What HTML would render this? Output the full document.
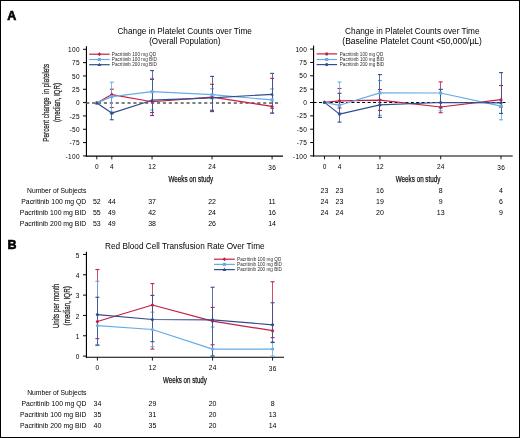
<!DOCTYPE html>
<html><head><meta charset="utf-8"><style>
html,body{margin:0;padding:0;background:#fff;}
svg{display:block;will-change:transform;font-family:"Liberation Sans",sans-serif;}
</style></head><body>
<svg width="520" height="438" viewBox="0 0 520 438">
<rect x="0.5" y="0.5" width="519" height="437" fill="#fff" stroke="#000" stroke-width="1"/>
<text x="7.2" y="19.6" font-size="12.5" font-weight="bold" fill="#000" stroke="#000" stroke-width="0.6">A</text>
<text x="7.4" y="248.7" font-size="12.5" font-weight="bold" fill="#000" stroke="#000" stroke-width="0.6">B</text>
<text x="117.4" y="33.5" font-size="8.3" textLength="134.5" lengthAdjust="spacingAndGlyphs">Change in Platelet Counts over Time</text>
<text x="149.2" y="44.1" font-size="8.3" textLength="71.2" lengthAdjust="spacingAndGlyphs">(Overall Population)</text>
<text x="345.1" y="33.6" font-size="8.3" textLength="134.5" lengthAdjust="spacingAndGlyphs">Change in Platelet Counts over Time</text>
<text x="342.3" y="43.9" font-size="8.3" textLength="139.6" lengthAdjust="spacingAndGlyphs">(Baseline Platelet Count &lt;50,000/µL)</text>
<text transform="translate(48.9 102.7) rotate(-90)" font-size="9.9" text-anchor="middle" textLength="77.9" lengthAdjust="spacingAndGlyphs" fill="#231f20" stroke="#231f20" stroke-width="0.25">Percent change&#160; in platelets</text>
<text transform="translate(59.9 102.5) rotate(-90)" font-size="9.6" text-anchor="middle" textLength="39.0" lengthAdjust="spacingAndGlyphs" fill="#231f20" stroke="#231f20" stroke-width="0.25">(median, IQR)</text>
<line x1="86.45" y1="46.2" x2="86.45" y2="156.7" stroke="#000" stroke-width="1.15"/>
<line x1="85.9" y1="156.1" x2="283" y2="156.1" stroke="#000" stroke-width="1.2"/>
<line x1="83.05" y1="49.29999999999999" x2="86.45" y2="49.29999999999999" stroke="#000" stroke-width="1.0"/>
<text x="79.9" y="51.9" font-size="6.5" text-anchor="end" letter-spacing="0.35">100</text>
<line x1="83.05" y1="62.62499999999999" x2="86.45" y2="62.62499999999999" stroke="#000" stroke-width="1.0"/>
<text x="79.9" y="65.22" font-size="6.5" text-anchor="end" letter-spacing="0.35">75</text>
<line x1="83.05" y1="75.94999999999999" x2="86.45" y2="75.94999999999999" stroke="#000" stroke-width="1.0"/>
<text x="79.9" y="78.55" font-size="6.5" text-anchor="end" letter-spacing="0.35">50</text>
<line x1="83.05" y1="89.27499999999999" x2="86.45" y2="89.27499999999999" stroke="#000" stroke-width="1.0"/>
<text x="79.9" y="91.87" font-size="6.5" text-anchor="end" letter-spacing="0.35">25</text>
<line x1="83.05" y1="102.6" x2="86.45" y2="102.6" stroke="#000" stroke-width="1.0"/>
<text x="79.9" y="105.2" font-size="6.5" text-anchor="end" letter-spacing="0.35">0</text>
<line x1="83.05" y1="115.925" x2="86.45" y2="115.925" stroke="#000" stroke-width="1.0"/>
<text x="79.9" y="118.52" font-size="6.5" text-anchor="end" letter-spacing="0.35">-25</text>
<line x1="83.05" y1="129.25" x2="86.45" y2="129.25" stroke="#000" stroke-width="1.0"/>
<text x="79.9" y="131.85" font-size="6.5" text-anchor="end" letter-spacing="0.35">-50</text>
<line x1="83.05" y1="142.575" x2="86.45" y2="142.575" stroke="#000" stroke-width="1.0"/>
<text x="79.9" y="145.18" font-size="6.5" text-anchor="end" letter-spacing="0.35">-75</text>
<line x1="83.05" y1="155.9" x2="86.45" y2="155.9" stroke="#000" stroke-width="1.0"/>
<text x="79.9" y="158.5" font-size="6.5" text-anchor="end" letter-spacing="0.35">-100</text>
<line x1="96.8" y1="156.1" x2="96.8" y2="159.4" stroke="#000" stroke-width="0.9"/>
<text x="96.975" y="168.7" font-size="6.5" text-anchor="middle" letter-spacing="0.35">0</text>
<line x1="111.8" y1="156.1" x2="111.8" y2="159.4" stroke="#000" stroke-width="0.9"/>
<text x="111.975" y="168.7" font-size="6.5" text-anchor="middle" letter-spacing="0.35">4</text>
<line x1="152.05" y1="156.1" x2="152.05" y2="159.4" stroke="#000" stroke-width="0.9"/>
<text x="152.22500000000002" y="168.7" font-size="6.5" text-anchor="middle" letter-spacing="0.35">12</text>
<line x1="212.05" y1="156.1" x2="212.05" y2="159.4" stroke="#000" stroke-width="0.9"/>
<text x="212.22500000000002" y="168.7" font-size="6.5" text-anchor="middle" letter-spacing="0.35">24</text>
<line x1="272.1" y1="156.1" x2="272.1" y2="159.4" stroke="#000" stroke-width="0.9"/>
<text x="272.27500000000003" y="170.0" font-size="6.5" text-anchor="middle" letter-spacing="0.35">36</text>
<line x1="86.2" y1="102.95" x2="281.0" y2="102.95" stroke="#555" stroke-width="1.6" stroke-dasharray="3.1 2.8"/>
<line x1="111.5" y1="89.2" x2="111.5" y2="107.5" stroke="#c21f45" stroke-width="0.8"/>
<line x1="109.8" y1="89.2" x2="113.8" y2="89.2" stroke="#c21f45" stroke-width="1.1"/>
<line x1="109.8" y1="107.5" x2="113.8" y2="107.5" stroke="#c21f45" stroke-width="1.1"/>
<line x1="152.5" y1="79.5" x2="152.5" y2="112.6" stroke="#c21f45" stroke-width="0.8"/>
<line x1="150.05" y1="79.5" x2="154.05" y2="79.5" stroke="#c21f45" stroke-width="1.1"/>
<line x1="150.05" y1="112.6" x2="154.05" y2="112.6" stroke="#c21f45" stroke-width="1.1"/>
<line x1="212.5" y1="84.3" x2="212.5" y2="111.6" stroke="#c21f45" stroke-width="0.8"/>
<line x1="210.05" y1="84.3" x2="214.05" y2="84.3" stroke="#c21f45" stroke-width="1.1"/>
<line x1="210.05" y1="111.6" x2="214.05" y2="111.6" stroke="#c21f45" stroke-width="1.1"/>
<line x1="272.5" y1="78.3" x2="272.5" y2="108.2" stroke="#c21f45" stroke-width="0.8"/>
<line x1="270.1" y1="78.3" x2="274.1" y2="78.3" stroke="#c21f45" stroke-width="1.1"/>
<line x1="270.1" y1="108.2" x2="274.1" y2="108.2" stroke="#c21f45" stroke-width="1.1"/>
<line x1="111.5" y1="82.2" x2="111.5" y2="112.0" stroke="#66ace6" stroke-width="0.8"/>
<line x1="109.8" y1="82.2" x2="113.8" y2="82.2" stroke="#66ace6" stroke-width="1.1"/>
<line x1="109.8" y1="112.0" x2="113.8" y2="112.0" stroke="#66ace6" stroke-width="1.1"/>
<line x1="152.5" y1="78.3" x2="152.5" y2="110.0" stroke="#66ace6" stroke-width="0.8"/>
<line x1="150.05" y1="78.3" x2="154.05" y2="78.3" stroke="#66ace6" stroke-width="1.1"/>
<line x1="150.05" y1="110.0" x2="154.05" y2="110.0" stroke="#66ace6" stroke-width="1.1"/>
<line x1="212.5" y1="88.8" x2="212.5" y2="110.0" stroke="#66ace6" stroke-width="0.8"/>
<line x1="210.05" y1="88.8" x2="214.05" y2="88.8" stroke="#66ace6" stroke-width="1.1"/>
<line x1="210.05" y1="110.0" x2="214.05" y2="110.0" stroke="#66ace6" stroke-width="1.1"/>
<line x1="272.5" y1="88.9" x2="272.5" y2="113.1" stroke="#66ace6" stroke-width="0.8"/>
<line x1="270.1" y1="88.9" x2="274.1" y2="88.9" stroke="#66ace6" stroke-width="1.1"/>
<line x1="270.1" y1="113.1" x2="274.1" y2="113.1" stroke="#66ace6" stroke-width="1.1"/>
<line x1="111.5" y1="113.1" x2="111.5" y2="119.75" stroke="#324d8c" stroke-width="0.8"/>
<line x1="109.8" y1="113.1" x2="113.8" y2="113.1" stroke="#324d8c" stroke-width="1.1"/>
<line x1="109.8" y1="119.75" x2="113.8" y2="119.75" stroke="#324d8c" stroke-width="1.1"/>
<line x1="152.5" y1="70.6" x2="152.5" y2="115.5" stroke="#324d8c" stroke-width="0.8"/>
<line x1="150.05" y1="70.6" x2="154.05" y2="70.6" stroke="#324d8c" stroke-width="1.1"/>
<line x1="150.05" y1="115.5" x2="154.05" y2="115.5" stroke="#324d8c" stroke-width="1.1"/>
<line x1="212.5" y1="76.4" x2="212.5" y2="110.8" stroke="#324d8c" stroke-width="0.8"/>
<line x1="210.05" y1="76.4" x2="214.05" y2="76.4" stroke="#324d8c" stroke-width="1.1"/>
<line x1="210.05" y1="110.8" x2="214.05" y2="110.8" stroke="#324d8c" stroke-width="1.1"/>
<line x1="272.5" y1="73.4" x2="272.5" y2="113.1" stroke="#324d8c" stroke-width="0.8"/>
<line x1="270.1" y1="73.4" x2="274.1" y2="73.4" stroke="#324d8c" stroke-width="1.1"/>
<line x1="270.1" y1="113.1" x2="274.1" y2="113.1" stroke="#324d8c" stroke-width="1.1"/>
<path d="M96.8 102.9 L111.8 94.6 L152.05 101.75 L212.05 97.1 L272.1 106.4" fill="none" stroke="#c21f45" stroke-width="1.2" stroke-linejoin="round"/>
<path d="M96.8 102.9 L111.8 96.6 L152.05 91.7 L212.05 94.7 L272.1 99.9" fill="none" stroke="#66ace6" stroke-width="1.2" stroke-linejoin="round"/>
<path d="M96.8 102.9 L111.8 113.1 L152.05 100.2 L212.05 97.9 L272.1 94.3" fill="none" stroke="#324d8c" stroke-width="1.2" stroke-linejoin="round"/>
<path d="M96.8 100.885L98.5825 102.9L96.8 104.915L95.0175 102.9Z" fill="#c21f45"/>
<path d="M111.8 92.585L113.5825 94.6L111.8 96.615L110.0175 94.6Z" fill="#c21f45"/>
<path d="M152.05 99.735L153.8325 101.75L152.05 103.765L150.2675 101.75Z" fill="#c21f45"/>
<path d="M212.05 95.085L213.8325 97.1L212.05 99.115L210.2675 97.1Z" fill="#c21f45"/>
<path d="M272.1 104.385L273.88250000000005 106.4L272.1 108.415L270.3175 106.4Z" fill="#c21f45"/>
<rect x="95.25" y="101.35000000000001" width="3.1" height="3.1" fill="#66ace6"/>
<rect x="110.25" y="95.05" width="3.1" height="3.1" fill="#66ace6"/>
<rect x="150.5" y="90.15" width="3.1" height="3.1" fill="#66ace6"/>
<rect x="210.5" y="93.15" width="3.1" height="3.1" fill="#66ace6"/>
<rect x="270.55" y="98.35000000000001" width="3.1" height="3.1" fill="#66ace6"/>
<path d="M96.8 100.885L98.5825 104.2175L95.0175 104.2175Z" fill="#324d8c"/>
<path d="M111.8 111.085L113.5825 114.41749999999999L110.0175 114.41749999999999Z" fill="#324d8c"/>
<path d="M152.05 98.185L153.8325 101.5175L150.2675 101.5175Z" fill="#324d8c"/>
<path d="M212.05 95.885L213.8325 99.2175L210.2675 99.2175Z" fill="#324d8c"/>
<path d="M272.1 92.285L273.88250000000005 95.61749999999999L270.3175 95.61749999999999Z" fill="#324d8c"/>
<line x1="313.55" y1="45.6" x2="313.55" y2="156.6" stroke="#000" stroke-width="1.15"/>
<line x1="313.0" y1="156.0" x2="512.7" y2="156.0" stroke="#000" stroke-width="1.2"/>
<line x1="310.15000000000003" y1="49.099999999999994" x2="313.55" y2="49.099999999999994" stroke="#000" stroke-width="1.0"/>
<text x="307.3" y="51.7" font-size="6.5" text-anchor="end" letter-spacing="0.35">100</text>
<line x1="310.15000000000003" y1="62.449999999999996" x2="313.55" y2="62.449999999999996" stroke="#000" stroke-width="1.0"/>
<text x="307.3" y="65.05" font-size="6.5" text-anchor="end" letter-spacing="0.35">75</text>
<line x1="310.15000000000003" y1="75.8" x2="313.55" y2="75.8" stroke="#000" stroke-width="1.0"/>
<text x="307.3" y="78.4" font-size="6.5" text-anchor="end" letter-spacing="0.35">50</text>
<line x1="310.15000000000003" y1="89.15" x2="313.55" y2="89.15" stroke="#000" stroke-width="1.0"/>
<text x="307.3" y="91.75" font-size="6.5" text-anchor="end" letter-spacing="0.35">25</text>
<line x1="310.15000000000003" y1="102.5" x2="313.55" y2="102.5" stroke="#000" stroke-width="1.0"/>
<text x="307.3" y="105.1" font-size="6.5" text-anchor="end" letter-spacing="0.35">0</text>
<line x1="310.15000000000003" y1="115.85" x2="313.55" y2="115.85" stroke="#000" stroke-width="1.0"/>
<text x="307.3" y="118.45" font-size="6.5" text-anchor="end" letter-spacing="0.35">-25</text>
<line x1="310.15000000000003" y1="129.2" x2="313.55" y2="129.2" stroke="#000" stroke-width="1.0"/>
<text x="307.3" y="131.8" font-size="6.5" text-anchor="end" letter-spacing="0.35">-50</text>
<line x1="310.15000000000003" y1="142.55" x2="313.55" y2="142.55" stroke="#000" stroke-width="1.0"/>
<text x="307.3" y="145.15" font-size="6.5" text-anchor="end" letter-spacing="0.35">-75</text>
<line x1="310.15000000000003" y1="155.9" x2="313.55" y2="155.9" stroke="#000" stroke-width="1.0"/>
<text x="307.3" y="158.5" font-size="6.5" text-anchor="end" letter-spacing="0.35">-100</text>
<line x1="324.5" y1="156.0" x2="324.5" y2="159.3" stroke="#000" stroke-width="0.9"/>
<text x="324.675" y="168.5" font-size="6.5" text-anchor="middle" letter-spacing="0.35">0</text>
<line x1="339.5" y1="156.0" x2="339.5" y2="159.3" stroke="#000" stroke-width="0.9"/>
<text x="339.675" y="168.5" font-size="6.5" text-anchor="middle" letter-spacing="0.35">4</text>
<line x1="379.95" y1="156.0" x2="379.95" y2="159.3" stroke="#000" stroke-width="0.9"/>
<text x="380.125" y="168.5" font-size="6.5" text-anchor="middle" letter-spacing="0.35">12</text>
<line x1="440.7" y1="156.0" x2="440.7" y2="159.3" stroke="#000" stroke-width="0.9"/>
<text x="440.875" y="168.5" font-size="6.5" text-anchor="middle" letter-spacing="0.35">24</text>
<line x1="501.0" y1="156.0" x2="501.0" y2="159.3" stroke="#000" stroke-width="0.9"/>
<text x="501.175" y="169.8" font-size="6.5" text-anchor="middle" letter-spacing="0.35">36</text>
<line x1="313.6" y1="102.45" x2="508.2" y2="102.45" stroke="#000" stroke-width="1.05" stroke-dasharray="3 2.4"/>
<line x1="339.5" y1="88.5" x2="339.5" y2="108.0" stroke="#c21f45" stroke-width="0.8"/>
<line x1="337.5" y1="88.5" x2="341.5" y2="88.5" stroke="#c21f45" stroke-width="1.1"/>
<line x1="337.5" y1="108.0" x2="341.5" y2="108.0" stroke="#c21f45" stroke-width="1.1"/>
<line x1="379.5" y1="89.5" x2="379.5" y2="110.4" stroke="#c21f45" stroke-width="0.8"/>
<line x1="377.95" y1="89.5" x2="381.95" y2="89.5" stroke="#c21f45" stroke-width="1.1"/>
<line x1="377.95" y1="110.4" x2="381.95" y2="110.4" stroke="#c21f45" stroke-width="1.1"/>
<line x1="440.5" y1="81.9" x2="440.5" y2="112.7" stroke="#c21f45" stroke-width="0.8"/>
<line x1="438.7" y1="81.9" x2="442.7" y2="81.9" stroke="#c21f45" stroke-width="1.1"/>
<line x1="438.7" y1="112.7" x2="442.7" y2="112.7" stroke="#c21f45" stroke-width="1.1"/>
<line x1="501.5" y1="85.5" x2="501.5" y2="107.0" stroke="#c21f45" stroke-width="0.8"/>
<line x1="499.0" y1="85.5" x2="503.0" y2="85.5" stroke="#c21f45" stroke-width="1.1"/>
<line x1="499.0" y1="107.0" x2="503.0" y2="107.0" stroke="#c21f45" stroke-width="1.1"/>
<line x1="339.5" y1="82.1" x2="339.5" y2="113.0" stroke="#66ace6" stroke-width="0.8"/>
<line x1="337.5" y1="82.1" x2="341.5" y2="82.1" stroke="#66ace6" stroke-width="1.1"/>
<line x1="337.5" y1="113.0" x2="341.5" y2="113.0" stroke="#66ace6" stroke-width="1.1"/>
<line x1="379.5" y1="80.5" x2="379.5" y2="115.3" stroke="#66ace6" stroke-width="0.8"/>
<line x1="377.95" y1="80.5" x2="381.95" y2="80.5" stroke="#66ace6" stroke-width="1.1"/>
<line x1="377.95" y1="115.3" x2="381.95" y2="115.3" stroke="#66ace6" stroke-width="1.1"/>
<line x1="440.5" y1="89.4" x2="440.5" y2="110.8" stroke="#66ace6" stroke-width="0.8"/>
<line x1="438.7" y1="89.4" x2="442.7" y2="89.4" stroke="#66ace6" stroke-width="1.1"/>
<line x1="438.7" y1="110.8" x2="442.7" y2="110.8" stroke="#66ace6" stroke-width="1.1"/>
<line x1="501.5" y1="106.2" x2="501.5" y2="119.8" stroke="#66ace6" stroke-width="0.8"/>
<line x1="499.0" y1="106.2" x2="503.0" y2="106.2" stroke="#66ace6" stroke-width="1.1"/>
<line x1="499.0" y1="119.8" x2="503.0" y2="119.8" stroke="#66ace6" stroke-width="1.1"/>
<line x1="339.5" y1="93.3" x2="339.5" y2="122.1" stroke="#324d8c" stroke-width="0.8"/>
<line x1="337.5" y1="93.3" x2="341.5" y2="93.3" stroke="#324d8c" stroke-width="1.1"/>
<line x1="337.5" y1="122.1" x2="341.5" y2="122.1" stroke="#324d8c" stroke-width="1.1"/>
<line x1="379.5" y1="74.6" x2="379.5" y2="117.4" stroke="#324d8c" stroke-width="0.8"/>
<line x1="377.95" y1="74.6" x2="381.95" y2="74.6" stroke="#324d8c" stroke-width="1.1"/>
<line x1="377.95" y1="117.4" x2="381.95" y2="117.4" stroke="#324d8c" stroke-width="1.1"/>
<line x1="440.5" y1="89.4" x2="440.5" y2="108.0" stroke="#324d8c" stroke-width="0.8"/>
<line x1="438.7" y1="89.4" x2="442.7" y2="89.4" stroke="#324d8c" stroke-width="1.1"/>
<line x1="438.7" y1="108.0" x2="442.7" y2="108.0" stroke="#324d8c" stroke-width="1.1"/>
<line x1="501.5" y1="72.6" x2="501.5" y2="113.4" stroke="#324d8c" stroke-width="0.8"/>
<line x1="499.0" y1="72.6" x2="503.0" y2="72.6" stroke="#324d8c" stroke-width="1.1"/>
<line x1="499.0" y1="113.4" x2="503.0" y2="113.4" stroke="#324d8c" stroke-width="1.1"/>
<path d="M324.5 102.4 L339.5 100.8 L379.95 100.1 L440.7 107.0 L501.0 99.7" fill="none" stroke="#c21f45" stroke-width="1.2" stroke-linejoin="round"/>
<path d="M324.5 102.4 L339.5 105.3 L379.95 92.9 L440.7 93.0 L501.0 106.2" fill="none" stroke="#66ace6" stroke-width="1.2" stroke-linejoin="round"/>
<path d="M324.5 102.4 L339.5 114.1 L379.95 104.9 L440.7 102.5 L501.0 102.8" fill="none" stroke="#324d8c" stroke-width="1.2" stroke-linejoin="round"/>
<circle cx="324.5" cy="102.4" r="1.55" fill="#c21f45"/>
<circle cx="339.5" cy="100.8" r="1.55" fill="#c21f45"/>
<circle cx="379.95" cy="100.1" r="1.55" fill="#c21f45"/>
<circle cx="440.7" cy="107.0" r="1.55" fill="#c21f45"/>
<circle cx="501.0" cy="99.7" r="1.55" fill="#c21f45"/>
<rect x="322.95" y="100.85000000000001" width="3.1" height="3.1" fill="#66ace6"/>
<rect x="337.95" y="103.75" width="3.1" height="3.1" fill="#66ace6"/>
<rect x="378.4" y="91.35000000000001" width="3.1" height="3.1" fill="#66ace6"/>
<rect x="439.15" y="91.45" width="3.1" height="3.1" fill="#66ace6"/>
<rect x="499.45" y="104.65" width="3.1" height="3.1" fill="#66ace6"/>
<circle cx="324.5" cy="102.4" r="1.55" fill="#324d8c"/>
<circle cx="339.5" cy="114.1" r="1.55" fill="#324d8c"/>
<circle cx="379.95" cy="104.9" r="1.55" fill="#324d8c"/>
<circle cx="440.7" cy="102.5" r="1.55" fill="#324d8c"/>
<circle cx="501.0" cy="102.8" r="1.55" fill="#324d8c"/>
<line x1="89.2" y1="54.2" x2="109.7" y2="54.2" stroke="#c21f45" stroke-width="1.2"/>
<path d="M99.4 52.185L101.1825 54.2L99.4 56.215L97.6175 54.2Z" fill="#c21f45"/>
<text x="111.8" y="55.85" font-size="4.7" textLength="44.2" lengthAdjust="spacingAndGlyphs" fill="#2a2a2a">Pacritinib 100 mg QD</text>
<line x1="89.2" y1="59.5" x2="109.7" y2="59.5" stroke="#66ace6" stroke-width="1.2"/>
<rect x="97.85000000000001" y="57.95" width="3.1" height="3.1" fill="#66ace6"/>
<text x="111.8" y="61.15" font-size="4.7" textLength="45.0" lengthAdjust="spacingAndGlyphs" fill="#2a2a2a">Pacritinib 100 mg BID</text>
<line x1="89.2" y1="64.7" x2="109.7" y2="64.7" stroke="#324d8c" stroke-width="1.2"/>
<path d="M99.4 62.685L101.1825 66.0175L97.6175 66.0175Z" fill="#324d8c"/>
<text x="111.8" y="66.35" font-size="4.7" textLength="45.0" lengthAdjust="spacingAndGlyphs" fill="#2a2a2a">Pacritinib 200 mg BID</text>
<line x1="316.6" y1="53.9" x2="337.1" y2="53.9" stroke="#c21f45" stroke-width="1.2"/>
<circle cx="326.7" cy="53.9" r="1.55" fill="#c21f45"/>
<text x="339.8" y="55.55" font-size="4.7" textLength="43.4" lengthAdjust="spacingAndGlyphs" fill="#2a2a2a">Pacritinib 100 mg QD</text>
<line x1="316.6" y1="59.5" x2="337.1" y2="59.5" stroke="#66ace6" stroke-width="1.2"/>
<rect x="325.15" y="57.95" width="3.1" height="3.1" fill="#66ace6"/>
<text x="339.8" y="61.15" font-size="4.7" textLength="44.3" lengthAdjust="spacingAndGlyphs" fill="#2a2a2a">Pacritinib 100 mg BID</text>
<line x1="316.6" y1="64.6" x2="337.1" y2="64.6" stroke="#324d8c" stroke-width="1.2"/>
<circle cx="326.7" cy="64.6" r="1.55" fill="#324d8c"/>
<text x="339.8" y="66.25" font-size="4.7" textLength="44.3" lengthAdjust="spacingAndGlyphs" fill="#2a2a2a">Pacritinib 200 mg BID</text>
<text x="168.5" y="182.0" font-size="8.9" textLength="44.6" lengthAdjust="spacingAndGlyphs" stroke="#231f20" stroke-width="0.25">Weeks on study</text>
<text x="395.8" y="181.9" font-size="8.9" textLength="44.6" lengthAdjust="spacingAndGlyphs" stroke="#231f20" stroke-width="0.25">Weeks on study</text>
<text x="27.0" y="193.4" font-size="7.0" textLength="59.3" lengthAdjust="spacingAndGlyphs">Number of Subjects</text>
<text x="21.3" y="204.1" font-size="7.0" textLength="65.0" lengthAdjust="spacingAndGlyphs">Pacritinib 100 mg QD</text>
<text x="19.8" y="215.1" font-size="7.0" textLength="66.5" lengthAdjust="spacingAndGlyphs">Pacritinib 100 mg BID</text>
<text x="19.8" y="226.0" font-size="7.0" textLength="66.5" lengthAdjust="spacingAndGlyphs">Pacritinib 200 mg BID</text>
<text x="96.8" y="204.1" font-size="7.0" text-anchor="middle">52</text>
<text x="111.8" y="204.1" font-size="7.0" text-anchor="middle">44</text>
<text x="152.05" y="204.1" font-size="7.0" text-anchor="middle">37</text>
<text x="212.05" y="204.1" font-size="7.0" text-anchor="middle">22</text>
<text x="272.1" y="204.1" font-size="7.0" text-anchor="middle">11</text>
<text x="96.8" y="215.1" font-size="7.0" text-anchor="middle">55</text>
<text x="111.8" y="215.1" font-size="7.0" text-anchor="middle">49</text>
<text x="152.05" y="215.1" font-size="7.0" text-anchor="middle">42</text>
<text x="212.05" y="215.1" font-size="7.0" text-anchor="middle">24</text>
<text x="272.1" y="215.1" font-size="7.0" text-anchor="middle">16</text>
<text x="96.8" y="226.0" font-size="7.0" text-anchor="middle">53</text>
<text x="111.8" y="226.0" font-size="7.0" text-anchor="middle">49</text>
<text x="152.05" y="226.0" font-size="7.0" text-anchor="middle">38</text>
<text x="212.05" y="226.0" font-size="7.0" text-anchor="middle">26</text>
<text x="272.1" y="226.0" font-size="7.0" text-anchor="middle">14</text>
<text x="324.5" y="193.4" font-size="7.0" text-anchor="middle">23</text>
<text x="339.5" y="193.4" font-size="7.0" text-anchor="middle">23</text>
<text x="379.95" y="193.4" font-size="7.0" text-anchor="middle">16</text>
<text x="440.7" y="193.4" font-size="7.0" text-anchor="middle">8</text>
<text x="501.0" y="193.4" font-size="7.0" text-anchor="middle">4</text>
<text x="324.5" y="204.1" font-size="7.0" text-anchor="middle">24</text>
<text x="339.5" y="204.1" font-size="7.0" text-anchor="middle">23</text>
<text x="379.95" y="204.1" font-size="7.0" text-anchor="middle">19</text>
<text x="440.7" y="204.1" font-size="7.0" text-anchor="middle">9</text>
<text x="501.0" y="204.1" font-size="7.0" text-anchor="middle">6</text>
<text x="324.5" y="215.1" font-size="7.0" text-anchor="middle">24</text>
<text x="339.5" y="215.1" font-size="7.0" text-anchor="middle">24</text>
<text x="379.95" y="215.1" font-size="7.0" text-anchor="middle">20</text>
<text x="440.7" y="215.1" font-size="7.0" text-anchor="middle">13</text>
<text x="501.0" y="215.1" font-size="7.0" text-anchor="middle">9</text>
<text x="105.1" y="249.4" font-size="8.3" textLength="159.5" lengthAdjust="spacingAndGlyphs">Red Blood Cell Transfusion Rate Over Time</text>
<line x1="86.45" y1="251.7" x2="86.45" y2="357.85" stroke="#000" stroke-width="1.15"/>
<line x1="85.9" y1="357.25" x2="284" y2="357.25" stroke="#000" stroke-width="1.2"/>
<line x1="83.05" y1="254.45000000000005" x2="86.45" y2="254.45000000000005" stroke="#000" stroke-width="1.0"/>
<text x="79.6" y="257.55" font-size="6.5" text-anchor="end" letter-spacing="0.35">5</text>
<line x1="83.05" y1="274.78000000000003" x2="86.45" y2="274.78000000000003" stroke="#000" stroke-width="1.0"/>
<text x="79.6" y="277.88" font-size="6.5" text-anchor="end" letter-spacing="0.35">4</text>
<line x1="83.05" y1="295.11" x2="86.45" y2="295.11" stroke="#000" stroke-width="1.0"/>
<text x="79.6" y="298.21" font-size="6.5" text-anchor="end" letter-spacing="0.35">3</text>
<line x1="83.05" y1="315.44000000000005" x2="86.45" y2="315.44000000000005" stroke="#000" stroke-width="1.0"/>
<text x="79.6" y="318.54" font-size="6.5" text-anchor="end" letter-spacing="0.35">2</text>
<line x1="83.05" y1="335.77000000000004" x2="86.45" y2="335.77000000000004" stroke="#000" stroke-width="1.0"/>
<text x="79.6" y="338.87" font-size="6.5" text-anchor="end" letter-spacing="0.35">1</text>
<line x1="83.05" y1="356.1" x2="86.45" y2="356.1" stroke="#000" stroke-width="1.0"/>
<text x="79.6" y="359.2" font-size="6.5" text-anchor="end" letter-spacing="0.35">0</text>
<line x1="97.4" y1="357.25" x2="97.4" y2="360.55" stroke="#000" stroke-width="0.9"/>
<text x="97.575" y="369.9" font-size="6.5" text-anchor="middle" letter-spacing="0.35">0</text>
<line x1="152.4" y1="357.25" x2="152.4" y2="360.55" stroke="#000" stroke-width="0.9"/>
<text x="152.57500000000002" y="369.9" font-size="6.5" text-anchor="middle" letter-spacing="0.35">12</text>
<line x1="212.6" y1="357.25" x2="212.6" y2="360.55" stroke="#000" stroke-width="0.9"/>
<text x="212.775" y="369.9" font-size="6.5" text-anchor="middle" letter-spacing="0.35">24</text>
<line x1="272.6" y1="357.25" x2="272.6" y2="360.55" stroke="#000" stroke-width="0.9"/>
<text x="272.77500000000003" y="371.2" font-size="6.5" text-anchor="middle" letter-spacing="0.35">36</text>
<text transform="translate(58.8 306) rotate(-90)" font-size="9.5" text-anchor="middle" textLength="44.7" lengthAdjust="spacingAndGlyphs" fill="#231f20" stroke="#231f20" stroke-width="0.25">Units per month</text>
<text transform="translate(69.8 305.8) rotate(-90)" font-size="9.5" text-anchor="middle" textLength="39.2" lengthAdjust="spacingAndGlyphs" fill="#231f20" stroke="#231f20" stroke-width="0.25">(median, IQR)</text>
<line x1="97.5" y1="269.504" x2="97.5" y2="338.66" stroke="#c21f45" stroke-width="0.8"/>
<line x1="95.4" y1="269.504" x2="99.4" y2="269.504" stroke="#c21f45" stroke-width="1.1"/>
<line x1="95.4" y1="338.66" x2="99.4" y2="338.66" stroke="#c21f45" stroke-width="1.1"/>
<line x1="152.5" y1="283.58000000000004" x2="152.5" y2="349.064" stroke="#c21f45" stroke-width="0.8"/>
<line x1="150.4" y1="283.58000000000004" x2="154.4" y2="283.58000000000004" stroke="#c21f45" stroke-width="1.1"/>
<line x1="150.4" y1="349.064" x2="154.4" y2="349.064" stroke="#c21f45" stroke-width="1.1"/>
<line x1="212.5" y1="307.448" x2="212.5" y2="344.78" stroke="#c21f45" stroke-width="0.8"/>
<line x1="210.6" y1="307.448" x2="214.6" y2="307.448" stroke="#c21f45" stroke-width="1.1"/>
<line x1="210.6" y1="344.78" x2="214.6" y2="344.78" stroke="#c21f45" stroke-width="1.1"/>
<line x1="272.5" y1="281.744" x2="272.5" y2="337.64" stroke="#c21f45" stroke-width="0.8"/>
<line x1="270.6" y1="281.744" x2="274.6" y2="281.744" stroke="#c21f45" stroke-width="1.1"/>
<line x1="270.6" y1="337.64" x2="274.6" y2="337.64" stroke="#c21f45" stroke-width="1.1"/>
<line x1="97.5" y1="281.336" x2="97.5" y2="345.596" stroke="#66ace6" stroke-width="0.8"/>
<line x1="95.4" y1="281.336" x2="99.4" y2="281.336" stroke="#66ace6" stroke-width="1.1"/>
<line x1="95.4" y1="345.596" x2="99.4" y2="345.596" stroke="#66ace6" stroke-width="1.1"/>
<line x1="152.5" y1="312.14" x2="152.5" y2="346.616" stroke="#66ace6" stroke-width="0.8"/>
<line x1="150.4" y1="312.14" x2="154.4" y2="312.14" stroke="#66ace6" stroke-width="1.1"/>
<line x1="150.4" y1="346.616" x2="154.4" y2="346.616" stroke="#66ace6" stroke-width="1.1"/>
<line x1="212.5" y1="327.032" x2="212.5" y2="356.0" stroke="#66ace6" stroke-width="0.8"/>
<line x1="210.6" y1="327.032" x2="214.6" y2="327.032" stroke="#66ace6" stroke-width="1.1"/>
<line x1="210.6" y1="356.0" x2="214.6" y2="356.0" stroke="#66ace6" stroke-width="1.1"/>
<line x1="272.5" y1="341.72" x2="272.5" y2="356.0" stroke="#66ace6" stroke-width="0.8"/>
<line x1="270.6" y1="341.72" x2="274.6" y2="341.72" stroke="#66ace6" stroke-width="1.1"/>
<line x1="270.6" y1="356.0" x2="274.6" y2="356.0" stroke="#66ace6" stroke-width="1.1"/>
<line x1="97.5" y1="297.248" x2="97.5" y2="344.984" stroke="#324d8c" stroke-width="0.8"/>
<line x1="95.4" y1="297.248" x2="99.4" y2="297.248" stroke="#324d8c" stroke-width="1.1"/>
<line x1="95.4" y1="344.984" x2="99.4" y2="344.984" stroke="#324d8c" stroke-width="1.1"/>
<line x1="152.5" y1="295.412" x2="152.5" y2="341.72" stroke="#324d8c" stroke-width="0.8"/>
<line x1="150.4" y1="295.412" x2="154.4" y2="295.412" stroke="#324d8c" stroke-width="1.1"/>
<line x1="150.4" y1="341.72" x2="154.4" y2="341.72" stroke="#324d8c" stroke-width="1.1"/>
<line x1="212.5" y1="287.252" x2="212.5" y2="356.0" stroke="#324d8c" stroke-width="0.8"/>
<line x1="210.6" y1="287.252" x2="214.6" y2="287.252" stroke="#324d8c" stroke-width="1.1"/>
<line x1="210.6" y1="356.0" x2="214.6" y2="356.0" stroke="#324d8c" stroke-width="1.1"/>
<line x1="272.5" y1="302.75600000000003" x2="272.5" y2="342.536" stroke="#324d8c" stroke-width="0.8"/>
<line x1="270.6" y1="302.75600000000003" x2="274.6" y2="302.75600000000003" stroke="#324d8c" stroke-width="1.1"/>
<line x1="270.6" y1="342.536" x2="274.6" y2="342.536" stroke="#324d8c" stroke-width="1.1"/>
<path d="M97.4 321.524 L152.4 305.0 L212.6 321.116 L272.6 330.704" fill="none" stroke="#c21f45" stroke-width="1.2" stroke-linejoin="round"/>
<path d="M97.4 325.604 L152.4 329.48 L212.6 349.064 L272.6 349.064" fill="none" stroke="#66ace6" stroke-width="1.2" stroke-linejoin="round"/>
<path d="M97.4 314.588 L152.4 319.484 L212.6 319.892 L272.6 324.788" fill="none" stroke="#324d8c" stroke-width="1.2" stroke-linejoin="round"/>
<circle cx="97.4" cy="321.524" r="1.55" fill="#c21f45"/>
<circle cx="152.4" cy="305.0" r="1.55" fill="#c21f45"/>
<circle cx="212.6" cy="321.116" r="1.55" fill="#c21f45"/>
<circle cx="272.6" cy="330.704" r="1.55" fill="#c21f45"/>
<circle cx="97.4" cy="325.604" r="1.55" fill="#66ace6"/>
<circle cx="152.4" cy="329.48" r="1.55" fill="#66ace6"/>
<circle cx="212.6" cy="349.064" r="1.55" fill="#66ace6"/>
<circle cx="272.6" cy="349.064" r="1.55" fill="#66ace6"/>
<circle cx="97.4" cy="314.588" r="1.55" fill="#324d8c"/>
<circle cx="152.4" cy="319.484" r="1.55" fill="#324d8c"/>
<circle cx="212.6" cy="319.892" r="1.55" fill="#324d8c"/>
<circle cx="272.6" cy="324.788" r="1.55" fill="#324d8c"/>
<line x1="214.0" y1="259.2" x2="234.8" y2="259.2" stroke="#c21f45" stroke-width="1.2"/>
<path d="M224.4 257.185L226.1825 259.2L224.4 261.215L222.6175 259.2Z" fill="#c21f45"/>
<text x="237.1" y="260.85" font-size="4.7" textLength="44.2" lengthAdjust="spacingAndGlyphs" fill="#2a2a2a">Pacritinib 100 mg QD</text>
<line x1="214.0" y1="264.4" x2="234.8" y2="264.4" stroke="#66ace6" stroke-width="1.2"/>
<rect x="222.85" y="262.84999999999997" width="3.1" height="3.1" fill="#66ace6"/>
<text x="237.1" y="266.05" font-size="4.7" textLength="44.8" lengthAdjust="spacingAndGlyphs" fill="#2a2a2a">Pacritinib 100 mg BID</text>
<line x1="214.0" y1="269.6" x2="234.8" y2="269.6" stroke="#324d8c" stroke-width="1.2"/>
<path d="M224.4 267.58500000000004L226.1825 270.9175L222.6175 270.9175Z" fill="#324d8c"/>
<text x="237.1" y="271.25" font-size="4.7" textLength="44.8" lengthAdjust="spacingAndGlyphs" fill="#2a2a2a">Pacritinib 200 mg BID</text>
<text x="163.1" y="382.9" font-size="8.9" textLength="43.8" lengthAdjust="spacingAndGlyphs" stroke="#231f20" stroke-width="0.25">Weeks on study</text>
<text x="27.2" y="394.8" font-size="7.0" textLength="59.3" lengthAdjust="spacingAndGlyphs">Number of Subjects</text>
<text x="21.5" y="405.8" font-size="7.0" textLength="65.0" lengthAdjust="spacingAndGlyphs">Pacritinib 100 mg QD</text>
<text x="20.0" y="416.9" font-size="7.0" textLength="66.5" lengthAdjust="spacingAndGlyphs">Pacritinib 100 mg BID</text>
<text x="20.0" y="427.5" font-size="7.0" textLength="66.5" lengthAdjust="spacingAndGlyphs">Pacritinib 200 mg BID</text>
<text x="97.4" y="405.8" font-size="7.0" text-anchor="middle">34</text>
<text x="152.4" y="405.8" font-size="7.0" text-anchor="middle">29</text>
<text x="212.6" y="405.8" font-size="7.0" text-anchor="middle">20</text>
<text x="272.6" y="405.8" font-size="7.0" text-anchor="middle">8</text>
<text x="97.4" y="416.9" font-size="7.0" text-anchor="middle">35</text>
<text x="152.4" y="416.9" font-size="7.0" text-anchor="middle">31</text>
<text x="212.6" y="416.9" font-size="7.0" text-anchor="middle">20</text>
<text x="272.6" y="416.9" font-size="7.0" text-anchor="middle">13</text>
<text x="97.4" y="427.5" font-size="7.0" text-anchor="middle">40</text>
<text x="152.4" y="427.5" font-size="7.0" text-anchor="middle">35</text>
<text x="212.6" y="427.5" font-size="7.0" text-anchor="middle">20</text>
<text x="272.6" y="427.5" font-size="7.0" text-anchor="middle">14</text>
</svg>
</body></html>
